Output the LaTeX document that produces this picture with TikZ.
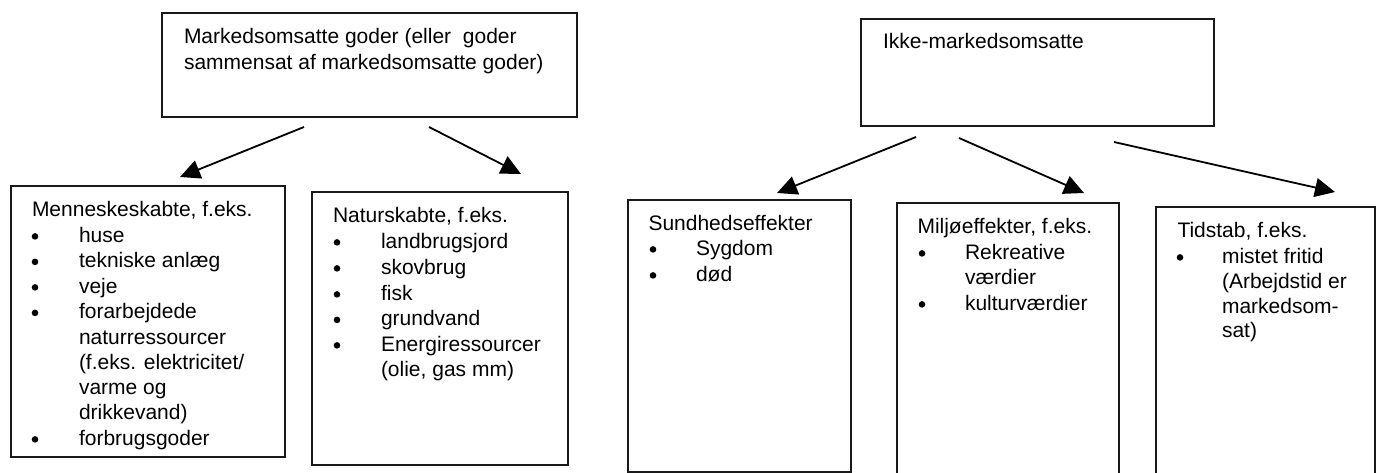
\documentclass[tikz,border=0pt]{standalone}
\usepackage{fontspec}
\setmainfont{Liberation Sans}
\usetikzlibrary{arrows.meta}
\begin{document}
\begin{tikzpicture}[x=1pt,y=-1pt,
  boxnode/.style={draw=black!90, line width=1.8pt, inner sep=0pt, outer sep=0pt, anchor=north west},
  lbl/.style={anchor=base west, inner sep=0pt, outer sep=0pt, font=\fontsize{21}{25}\selectfont},
  bul/.style={circle, fill=black, inner sep=0pt, outer sep=0pt, minimum size=6.6pt, yshift=5.6pt},
  arr/.style={line width=1.8pt, -{Triangle[length=20pt,width=19pt]}}]
\useasboundingbox (0,0) rectangle (1380,473);
\clip (0,0) rectangle (1380,473);
% boxes
\node[boxnode, minimum width=415pt, minimum height=104pt] (mk) at (162,13) {};
\node[boxnode, minimum width=353pt, minimum height=107pt] (ikke) at (861,19) {};
\node[boxnode, minimum width=274pt, minimum height=271pt] (men) at (11,186) {};
\node[boxnode, minimum width=256pt, minimum height=273pt] (nat) at (312,192) {};
\node[boxnode, minimum width=223pt, minimum height=272pt] (sun) at (628,200) {};
\node[boxnode, minimum width=222pt, minimum height=300pt] (mil) at (897,203) {};
\node[boxnode, minimum width=219pt, minimum height=300pt] (tid) at (1156,207) {};
% top texts
\node[lbl] (mk1) at (184,44) {Markedsomsatte goder (eller~ goder};
\node[lbl] (mk2) at (184,69.5) {sammensat af markedsomsatte goder)};
\node[lbl] (ik1) at (883,49) {Ikke-markedsomsatte};
% Menneskeskabte
\node[lbl] (m0) at (32,216) {Menneskeskabte, f.eks.};
\node[bul] (mb1) at (35,242) {};
\node[lbl] (m1) at (79,242) {huse};
\node[bul] (mb2) at (35,267.5) {};
\node[lbl] (m2) at (79,267.5) {tekniske anlæg};
\node[bul] (mb3) at (35,293) {};
\node[lbl] (m3) at (79,293) {veje};
\node[bul] (mb4) at (35,318.5) {};
\node[lbl] (m4) at (79,318.5) {forarbejdede};
\node[lbl] (m5) at (79,344) {naturressourcer};
\node[lbl] (m6) at (79,369) {(f.eks. elektricitet/};
\node[lbl] (m7) at (79,394) {varme og};
\node[lbl] (m8) at (79,419) {drikkevand)};
\node[bul] (mb9) at (35,445) {};
\node[lbl] (m9) at (79,445) {forbrugsgoder};
% Naturskabte
\node[lbl] (n0) at (333,222) {Naturskabte, f.eks.};
\node[bul] (nb1) at (337,248) {};
\node[lbl] (n1) at (381,248) {landbrugsjord};
\node[bul] (nb2) at (337,274) {};
\node[lbl] (n2) at (381,274) {skovbrug};
\node[bul] (nb3) at (337,300) {};
\node[lbl] (n3) at (381,300) {fisk};
\node[bul] (nb4) at (337,325.5) {};
\node[lbl] (n4) at (381,325.5) {grundvand};
\node[bul] (nb5) at (337,351) {};
\node[lbl] (n5) at (381,351) {Energiressourcer};
\node[lbl] (n6) at (381,376) {(olie, gas mm)};
% Sundhed
\node[lbl] (s0) at (648.5,230) {Sundhedseffekter};
\node[bul] (sb1) at (653,255) {};
\node[lbl] (s1) at (696,255) {Sygdom};
\node[bul] (sb2) at (653,281) {};
\node[lbl] (s2) at (696,281) {død};
% Miljø
\node[lbl] (e0) at (917.5,233) {Miljøeffekter, f.eks.};
\node[bul] (eb1) at (922,259) {};
\node[lbl] (e1) at (965,259) {Rekreative};
\node[lbl] (e2) at (965,284) {værdier};
\node[bul] (eb3) at (922,310) {};
\node[lbl] (e3) at (965,310) {kulturværdier};
% Tidstab
\node[lbl] (t0) at (1177.5,237) {Tidstab, f.eks.};
\node[bul] (tb1) at (1180,263) {};
\node[lbl] (t1) at (1222,263) {mistet fritid};
\node[lbl] (t2) at (1222,288) {(Arbejdstid er};
\node[lbl] (t3) at (1222,313) {markedsom-};
\node[lbl] (t4) at (1222,337.5) {sat)};
% arrow end points
\coordinate (a1s) at (304,127);
\coordinate (a1e) at (180,177);
\coordinate (a2s) at (429,127);
\coordinate (a2e) at (521,174);
\coordinate (a3s) at (916,137);
\coordinate (a3e) at (777,193);
\coordinate (a4s) at (959,138);
\coordinate (a4e) at (1084,193);
\coordinate (a5s) at (1114,142);
\coordinate (a5e) at (1335,192);
\draw[arr] (a1s) -- (a1e);
\draw[arr] (a2s) -- (a2e);
\draw[arr] (a3s) -- (a3e);
\draw[arr] (a4s) -- (a4e);
\draw[arr] (a5s) -- (a5e);
\end{tikzpicture}
\end{document}
